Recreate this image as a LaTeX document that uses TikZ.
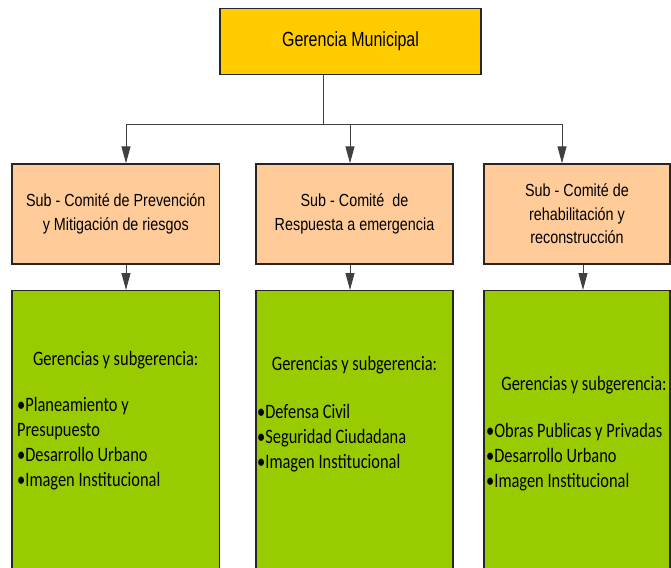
\documentclass[tikz,border=0pt]{standalone}
\usepackage{fontspec}
\setmainfont{Liberation Sans}
\newfontfamily\arialnarrow[FakeStretch=0.82]{Liberation Sans}
\newfontfamily\arialtall[FakeStretch=0.78]{Liberation Sans}
\newfontfamily\calibrinarrow[FakeStretch=0.8]{Carlito}
\usetikzlibrary{arrows.meta}
\definecolor{gold}{HTML}{FFCC00}
\definecolor{peach}{HTML}{FFCC99}
\definecolor{lime}{HTML}{99CC00}
\definecolor{wire}{HTML}{404040}
\tikzstyle{head box}=[
        draw = black!85,
        line width = 1.3pt,
        fill = gold,
        minimum width = 261pt,
        minimum height = 66pt,
        font = \arialtall\fontsize{20.5}{24}\selectfont
    ]
\tikzstyle{sub box}=[
        draw = black!85,
        line width = 1.3pt,
        fill = peach,
        minimum height = 100pt,
        align = center,
        font = \arialnarrow\fontsize{17.5}{23.5}\selectfont
    ]
\tikzstyle{group box}=[
        draw = black!85,
        line width = 1.3pt,
        fill = lime,
        minimum height = 320pt,
        anchor = north
    ]
\tikzstyle{group title}=[
        anchor = base,
        inner sep = 0pt,
        font = \calibrinarrow\fontsize{20.5}{25}\selectfont
    ]
\tikzstyle{group item}=[
        anchor = base west,
        inner sep = 0pt,
        font = \calibrinarrow\fontsize{20.5}{25}\selectfont
    ]

\begin{document}
\begin{tikzpicture}[x=1pt, y=-1pt,
        wire/.style = {draw=wire, line width=1pt},
        arrow/.style = {wire, -{Triangle[width=9pt, length=17pt]}}]
        \useasboundingbox (0,0) rectangle (671,567);
        \clip (0,0) rectangle (671,567);

        % boxes
        \node[head box] (top) at (350.5,41.5) {Gerencia Municipal};
        \node[sub box, minimum width = 207.5pt] (sub1) at (115.75,214) {Sub - Comité de Prevención\\y Mitigación de riesgos};
        \node[sub box, minimum width = 197pt] (sub2) at (354.5,214) {Sub - Comité\ \ de\\Respuesta a emergencia};
        \node[sub box, minimum width = 186pt] (sub3) at (577,214) {Sub - Comité de\\rehabilitación y\\reconstrucción};
        \node[group box, minimum width = 207.5pt] (gre1) at (115.75,290) {};
        \node[group box, minimum width = 197pt] (gre2) at (354.5,290) {};
        \node[group box, minimum width = 186pt] (gre3) at (577,290) {};

        % connectors
        \coordinate (split) at (323,124);
        \coordinate (j1) at (126,124);
        \coordinate (j2) at (350,124);
        \coordinate (j3) at (562,124);
        \coordinate (k3) at (583,0);
        \draw[wire] (top.south -| split) -- (split);
        \draw[wire] (j1) -- (j3);
        \draw[arrow] (j1) -- (j1 |- sub1.north);
        \draw[arrow] (j2) -- (j2 |- sub2.north);
        \draw[arrow] (j3) -- (j3 |- sub3.north);
        \draw[arrow] (sub1.south -| j1) -- (gre1.north -| j1);
        \draw[arrow] (sub2.south -| j2) -- (gre2.north -| j2);
        \draw[arrow] (sub3.south -| k3) -- (gre3.north -| k3);

        % texts of the groups
        \node[group title] (t1) at (115.75,365) {Gerencias y subgerencia:};
        \node[group title] (t2) at (354.5,370) {Gerencias y subgerencia:};
        \node[group title] (t3) at (584,390) {Gerencias y subgerencia:};
        \foreach \t [count=\i] in {•Planeamiento y, Presupuesto, •Desarrollo Urbano, •Imagen Institucional}
            \node[group item] (a\i) at (17,386+25*\i) {\t};
        \foreach \t [count=\i] in {•Defensa Civil, •Seguridad Ciudadana, •Imagen Institucional}
            \node[group item] (b\i) at (257,393+25*\i) {\t};
        \foreach \t [count=\i] in {•Obras Publicas y Privadas, •Desarrollo Urbano, •Imagen Institucional}
            \node[group item] (c\i) at (486,412+25*\i) {\t};

    \end{tikzpicture}
\end{document}
